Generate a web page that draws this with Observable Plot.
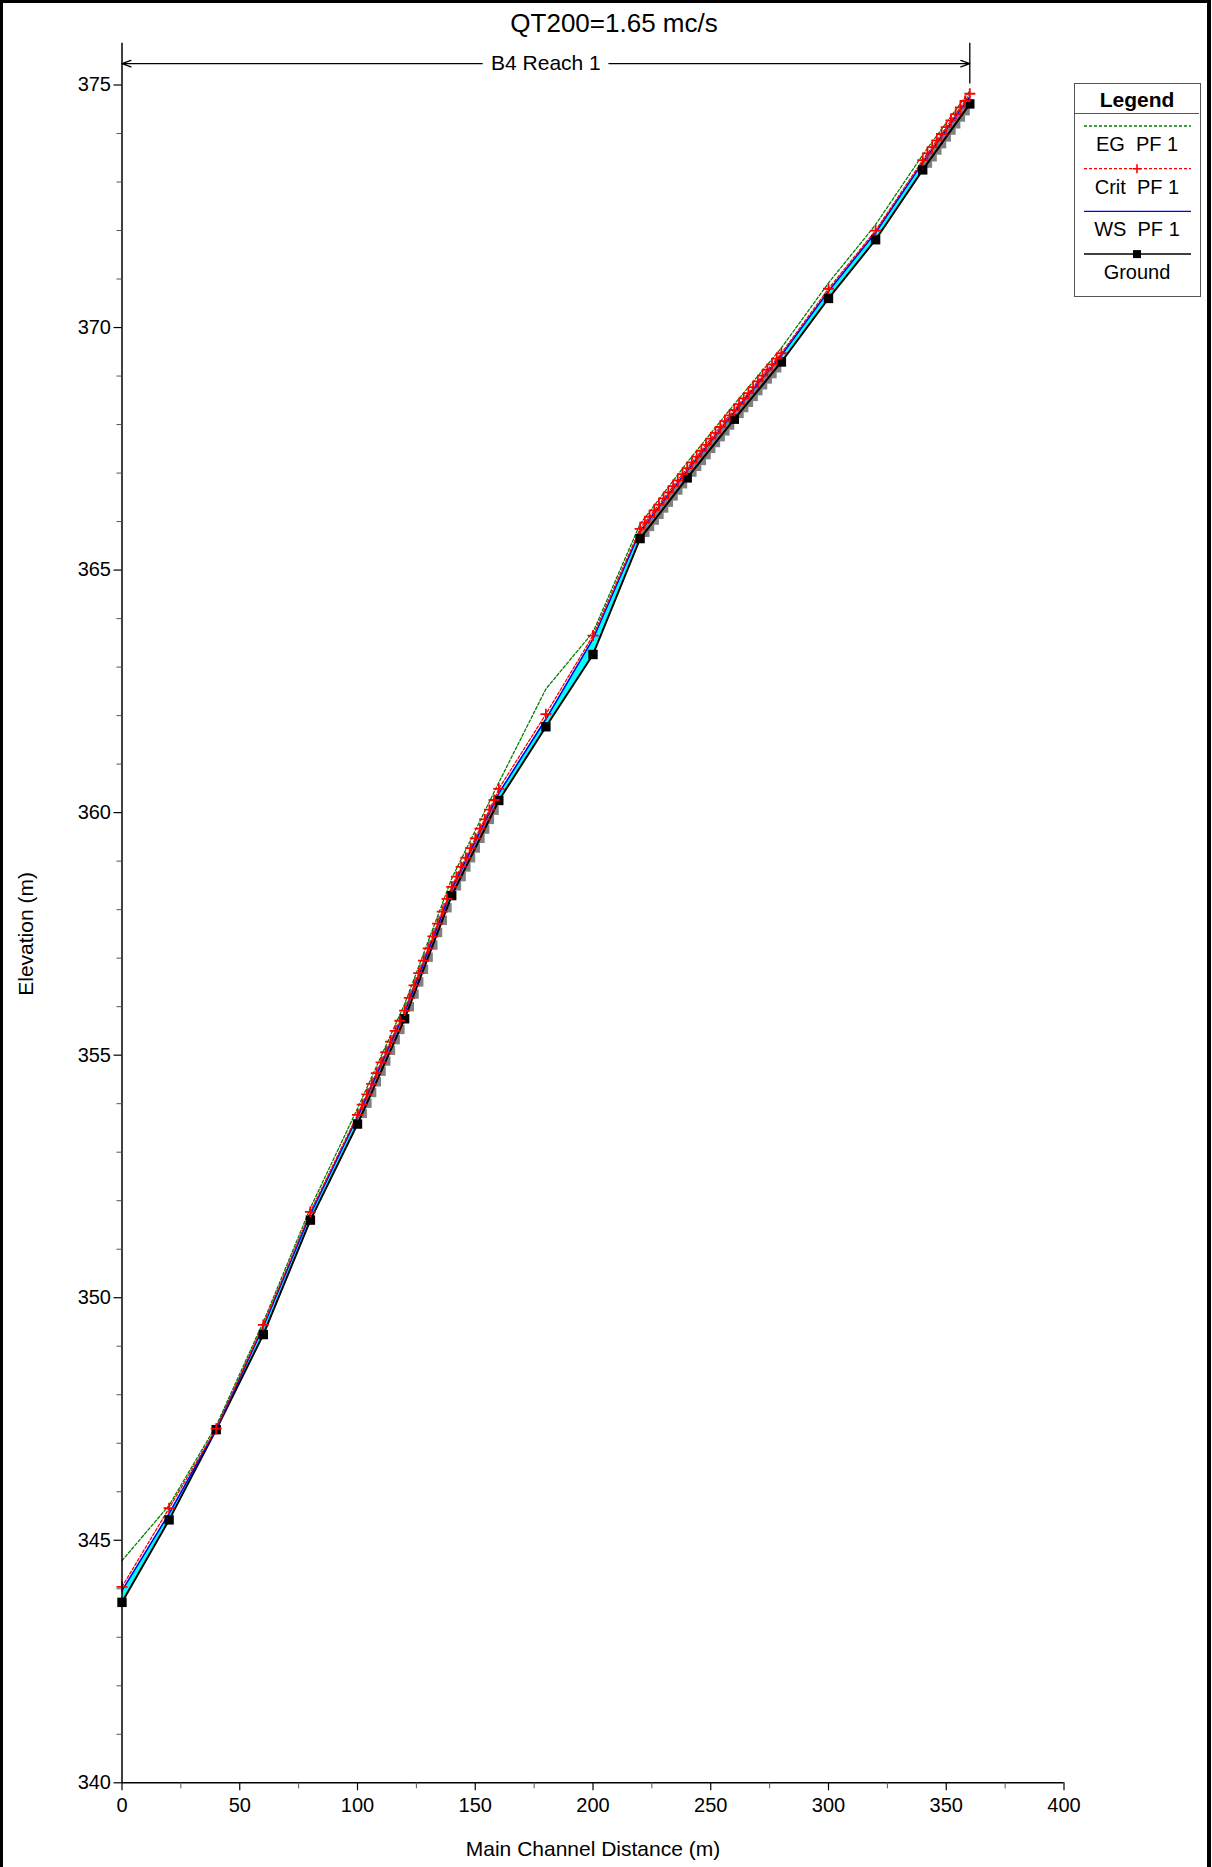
<!DOCTYPE html>
<html><head><meta charset="utf-8">
<script src="https://cdn.jsdelivr.net/npm/d3@7"></script>
<script src="https://cdn.jsdelivr.net/npm/@observablehq/plot@0.6"></script>
<style>
html,body{margin:0;padding:0;background:#fff;}
#page{position:relative;width:1212px;height:1867px;overflow:hidden;font-family:'Liberation Sans',Arial,sans-serif;}
#border{position:absolute;left:0;top:0;width:1211px;height:1867px;box-sizing:border-box;border-left:3px solid #000;border-top:3px solid #000;border-right:4px solid #000;pointer-events:none;}
#chart{position:absolute;left:0;top:0;}
#legend{position:absolute;left:1074px;top:83px;width:127px;height:214px;box-sizing:border-box;border:1.5px solid #555;background:#fff;}
</style></head><body>
<div id="page"><div id="chart"></div><div id="legend"></div><div id="border"></div></div>
<script>
// ---- data ----
const titleText = "QT200=1.65 mc/s";
const xLabel = "Main Channel Distance (m)";
const yLabel = "Elevation (m)";

const reachNames = ["B4 Reach 1"];
const reachStart = [0];
const reachEnd = [360];

// main cross sections
const stations   = [0,20,40,60,80,100,120,140,160,180,200,220,240,260,280,300,320,340,360];
const groundElev = [343.72,345.42,347.28,349.24,351.60,353.58,355.75,358.29,360.25,361.77,363.26,365.65,366.90,368.11,369.29,370.60,371.81,373.25,374.61];
const wsElev     = [343.96,345.55,347.29,349.40,351.72,353.73,355.88,358.42,360.40,361.93,363.58,365.80,367.05,368.26,369.43,370.75,371.96,373.40,374.76];
const critElev   = [344.04,345.66,347.30,349.44,351.77,353.77,355.92,358.47,360.49,362.03,363.65,365.85,367.10,368.30,369.47,370.80,372.00,373.45,374.82];
const egElev     = [344.58,345.72,347.36,349.50,351.85,353.90,356.05,358.64,360.62,362.55,363.72,365.95,367.22,368.42,369.58,370.92,372.12,373.56,374.88];

// interpolated cross sections (grey squares)
const interpStations = [102,104,106,108,110,112,114,116,118,
  122,124,126,128,130,132,134,136,138,
  142,144,146,148,150,152,154,156,158,
  222,224,226,228,230,232,234,236,238,
  242,244,246,248,250,252,254,256,258,
  262,264,266,268,270,272,274,276,278,
  342,344,346,348,350,352,354,356,358];
const interpGround = [353.80,354.01,354.23,354.45,354.67,354.88,355.10,355.32,355.53,
  356.00,356.26,356.51,356.77,357.02,357.27,357.53,357.78,358.04,
  358.49,358.68,358.88,359.07,359.27,359.47,359.66,359.86,360.05,
  365.78,365.90,366.03,366.15,366.28,366.40,366.53,366.65,366.78,
  367.02,367.14,367.26,367.38,367.51,367.63,367.75,367.87,367.99,
  368.23,368.35,368.46,368.58,368.70,368.82,368.94,369.05,369.17,
  373.39,373.52,373.66,373.79,373.93,374.07,374.20,374.34,374.47];
const interpCrit = [353.98,354.19,354.41,354.63,354.85,355.06,355.28,355.50,355.71,
  356.18,356.44,356.69,356.95,357.20,357.45,357.71,357.96,358.22,
  358.68,358.88,359.07,359.27,359.47,359.67,359.86,360.06,360.26,
  365.98,366.10,366.23,366.35,366.48,366.60,366.73,366.85,366.98,
  367.22,367.34,367.46,367.58,367.71,367.83,367.95,368.07,368.19,
  368.42,368.54,368.65,368.77,368.89,369.01,369.13,369.24,369.36,
  373.59,373.72,373.86,373.99,374.13,374.27,374.40,374.54,374.67];

const xMajorTicks = [0,50,100,150,200,250,300,350,400];
const xMinorTicks = [25,75,125,175,225,275,325,375];
const yMajorTicks = [340,345,350,355,360,365,370,375];
const yMinorTicks = [341,342,343,344,346,347,348,349,351,352,353,354,356,357,358,359,361,362,363,364,366,367,368,369,371,372,373,374];

const legendLabels = ["EG  PF 1","Crit  PF 1","WS  PF 1","Ground"];

// ---- tables ----
const main = stations.map((s,i)=>({x:s, ground:groundElev[i], ws:wsElev[i], crit:critElev[i], eg:egElev[i]}));
const interp = interpStations.map((s,i)=>({x:s, ground:interpGround[i], crit:interpCrit[i]}));
const critAll = main.map(d=>({x:d.x, crit:d.crit})).concat(interp.map(d=>({x:d.x, crit:d.crit}))).sort((a,b)=>a.x-b.x);
const reach = reachNames.map((n,i)=>({name:n, start:reachStart[i], end:reachEnd[i], mid:(reachStart[i]+reachEnd[i])/2}));

const FONT = "'Liberation Sans', Arial, sans-serif";
const bracketY = 375.44, bracketTop = 375.86, bracketLow = 375.02;

// symbols whose size maps r -> half-width in pixels
const plusSym = {draw(ctx, size){ const h = Math.sqrt(size/Math.PI); ctx.moveTo(-h,0); ctx.lineTo(h,0); ctx.moveTo(0,-h); ctx.lineTo(0,h); }};
const squareSym = {draw(ctx, size){ const h = Math.sqrt(size/Math.PI); ctx.rect(-h,-h,2*h,2*h); }};

const chart = Plot.plot({
  width: 1212, height: 1867,
  marginLeft: 121.5, marginRight: 148.5, marginTop: 84.5, marginBottom: 84.7,
  x: {domain: [0,400], label: null},
  y: {domain: [340,375], label: null},
  style: {fontFamily: FONT, fontSize: "20px", background: "transparent", color: "black", overflow: "visible"},
  marks: [
    Plot.areaY(main, {x:"x", y1:"ground", y2:"ws", fill:"#00FFFF"}),
    Plot.dot(interp, {x:"x", y:"ground", symbol:squareSym, r:4.7, fill:"#808080", stroke:"none"}),
    Plot.line(main, {x:"x", y:"ground", stroke:"#000", strokeWidth:2}),
    Plot.line(main, {x:"x", y:"ws", stroke:"#0000FF", strokeWidth:1.5}),
    Plot.line(main, {x:"x", y:"eg", stroke:"#008000", strokeWidth:1.3, strokeDasharray:"3,2"}),
    Plot.line(critAll, {x:"x", y:"crit", stroke:"#FF0000", strokeWidth:1.3, strokeDasharray:"3,2"}),
    Plot.dot(main, {x:"x", y:"ground", symbol:squareSym, r:4.7, fill:"#000", stroke:"none"}),
    Plot.dot(critAll, {x:"x", y:"crit", symbol:plusSym, r:5.5, fill:"none", stroke:"#FF0000", strokeWidth:1.8}),
    // axes
    Plot.ruleX([0], {y1:340, y2:bracketTop, stroke:"#000", strokeWidth:1.5}),
    Plot.ruleY([340], {x1:0, x2:400, stroke:"#000", strokeWidth:1.5}),
    Plot.axisY(yMajorTicks, {tickSize:8, tickPadding:3, label:null, strokeWidth:1.2}),
    Plot.axisY(yMinorTicks, {tickSize:5, tickFormat:()=>"", label:null, stroke:"#555"}),
    Plot.axisX(xMajorTicks, {tickSize:8, tickPadding:7, label:null, strokeWidth:1.2}),
    Plot.axisX(xMinorTicks, {tickSize:6, tickFormat:()=>"", label:null, stroke:"#555"}),
    // reach bracket
    Plot.ruleX(reach, {x:"end", y1:bracketLow, y2:bracketTop, stroke:"#000", strokeWidth:1.3}),
    Plot.arrow(reach, {x1:"mid", x2:"start", y1:bracketY, y2:bracketY, headLength:11, headAngle:40, stroke:"#000", strokeWidth:1.3}),
    Plot.arrow(reach, {x1:"mid", x2:"end", y1:bracketY, y2:bracketY, headLength:11, headAngle:40, stroke:"#000", strokeWidth:1.3}),
    Plot.text(reach, {x:"mid", y:bracketY, text:"name", fontSize:21, fill:"#000", stroke:"#fff", strokeWidth:20, lineAnchor:"middle"}),
    // titles
    Plot.text([titleText], {frameAnchor:"top", dy:-61.5, dx:21, fontSize:26, lineAnchor:"middle", textAnchor:"middle", fill:"#000"}),
    Plot.text([xLabel], {frameAnchor:"bottom", dy:66, fontSize:21, lineAnchor:"middle", textAnchor:"middle", fill:"#000"}),
    Plot.text([yLabel], {frameAnchor:"left", dx:-95.5, rotate:-90, fontSize:21, lineAnchor:"middle", textAnchor:"middle", fill:"#000"})
  ]
});
document.getElementById("chart").appendChild(chart);

// ---- legend ----
const legendStyles = [
  {stroke:"#008000", dash:"3,2", marker:null},
  {stroke:"#FF0000", dash:"3,2", marker:"plus"},
  {stroke:"#0000FF", dash:null, marker:null},
  {stroke:"#000", dash:null, marker:"square", width:1.5}
];
let svg = `<svg width="124" height="211" xmlns="http://www.w3.org/2000/svg" style="display:block;font-family:${FONT.replace(/'/g,'&quot;')}">`;
svg += `<text x="62" y="15" text-anchor="middle" dominant-baseline="central" font-size="21" font-weight="bold" fill="#000">Legend</text>`;
svg += `<line x1="0" x2="124" y1="29.5" y2="29.5" stroke="#555" stroke-width="1.2"/>`;
legendLabels.forEach((lab,i)=>{
  const st = legendStyles[i];
  const ly = 42 + i*42.7, ty = 60 + i*42.7;
  svg += `<line x1="9" x2="116" y1="${ly}" y2="${ly}" stroke="${st.stroke}" stroke-width="${st.width||1.3}" ${st.dash?`stroke-dasharray="${st.dash}"`:""}/>`;
  if (st.marker==="plus") svg += `<path d="M62,${ly-4.5}V${ly+4.5}M57.5,${ly}H66.5" stroke="${st.stroke}" stroke-width="1.6"/>`;
  if (st.marker==="square") svg += `<rect x="58" y="${ly-4}" width="8" height="8" fill="#000"/>`;
  svg += `<text x="62" y="${ty}" text-anchor="middle" dominant-baseline="central" font-size="20" fill="#000" xml:space="preserve" style="white-space:pre">${lab}</text>`;
});
svg += `</svg>`;
document.getElementById("legend").innerHTML = svg;
</script>
</body></html>
